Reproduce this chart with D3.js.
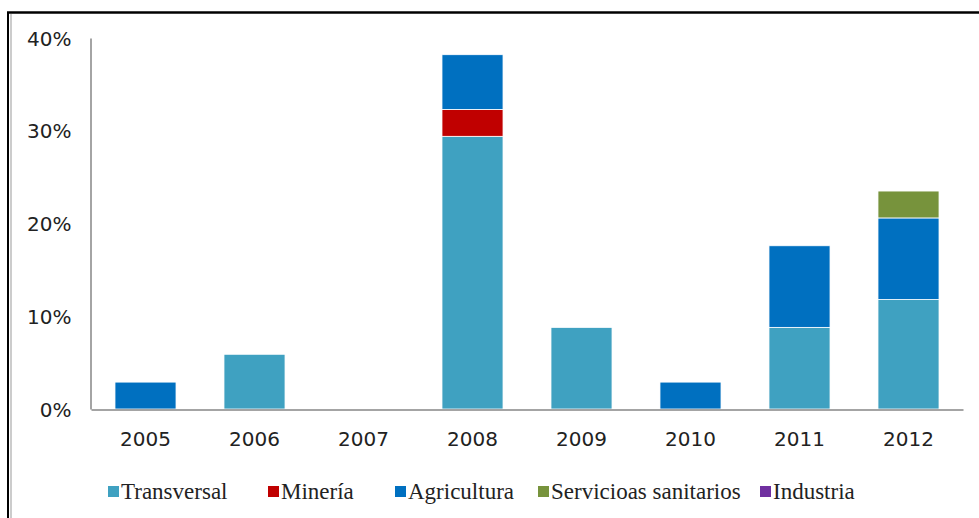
<!DOCTYPE html>
<html>
<head>
<meta charset="utf-8">
<script src="https://cdn.jsdelivr.net/npm/d3@7"></script>
<style>
  html, body { margin: 0; padding: 0; background: #fff; }
  svg { display: block; }
  text { font-family: "Liberation Serif", "DejaVu Serif", serif; fill: #222; }
</style>
</head>
<body>
<svg id="chart" width="979" height="518"></svg>
<script>
// Years on the category axis
const years = ["2005", "2006", "2007", "2008", "2009", "2010", "2011", "2012"];
// Series names, stacked bottom to top
const seriesNames = ["Transversal", "Minería", "Agricultura", "Servicioas sanitarios", "Industria"];
const seriesColors = ["#3fa1c1", "#c00000", "#0070c0", "#77933c", "#7030a0"];
// Share per year (%)
const transversal = [0, 5.9, 0, 29.4, 8.8, 0, 8.8, 11.8];
const mineria     = [0, 0, 0, 2.9, 0, 0, 0, 0];
const agricultura = [2.9, 0, 0, 5.9, 0, 2.9, 8.8, 8.8];
const sanitarios  = [0, 0, 0, 0, 0, 0, 0, 2.9];
const industria   = [0, 0, 0, 0, 0, 0, 0, 0];
const yTicks = [0, 10, 20, 30, 40];

const seriesValues = [transversal, mineria, agricultura, sanitarios, industria];
const rows = years.map((y, i) => {
  const r = { year: y };
  seriesNames.forEach((s, k) => { r[s] = seriesValues[k][i]; });
  return r;
});

const svg = d3.select("#chart");

// Frame around the chart
svg.append("line").attr("x1", 8).attr("x2", 8).attr("y1", 12).attr("y2", 520)
  .attr("stroke", "#000").attr("stroke-width", 2);
svg.append("line").attr("x1", 11).attr("x2", 11).attr("y1", 14).attr("y2", 520)
  .attr("stroke", "#999").attr("stroke-width", 1);
svg.append("line").attr("x1", 7).attr("x2", 981).attr("y1", 12.5).attr("y2", 12.5)
  .attr("stroke", "#000").attr("stroke-width", 2.5);

const plot = { left: 91, right: 963, top: 38, bottom: 409 };

const x = d3.scaleBand().domain(years).range([plot.left, plot.right]).paddingInner(0.44).paddingOuter(0.22);
const y = d3.scaleLinear().domain([0, 40]).range([plot.bottom, plot.top]);

const stack = d3.stack().keys(seriesNames);
const layers = stack(rows);

const g = svg.append("g");
g.selectAll("g.layer")
  .data(layers)
  .join("g")
  .attr("class", "layer")
  .attr("fill", (d, i) => seriesColors[i])
  .selectAll("rect")
  .data(d => d.filter(p => p[1] - p[0] > 0))
  .join("rect")
  .attr("x", d => x(d.data.year))
  .attr("width", x.bandwidth())
  .attr("y", d => y(d[1]))
  .attr("height", d => y(d[0]) - y(d[1]))
  .attr("stroke", "#fff")
  .attr("stroke-width", 0.8);

const axisFont = "'DejaVu Sans', Verdana, sans-serif";

// Y axis
const yAxis = d3.axisLeft(y).tickValues(yTicks).tickFormat(d => d + "%").tickSize(0).tickPadding(19);
const ya = svg.append("g").attr("transform", `translate(${plot.left - 0.5},0)`).call(yAxis);
ya.select(".domain").attr("stroke", "#868686").attr("stroke-width", 1.5);
ya.selectAll("text").style("font-size", "20px").attr("fill", "#333")
  .style("font-family", axisFont).attr("dy", "0.35em");

// X axis
const xAxis = d3.axisBottom(x).tickSize(0).tickPadding(22);
const xa = svg.append("g").attr("transform", `translate(0,${plot.bottom + 0.5})`).call(xAxis);
xa.select(".domain").attr("stroke", "#868686").attr("stroke-width", 1.5);
xa.selectAll("text").style("font-size", "20px").attr("fill", "#333")
  .style("font-family", axisFont);

// Legend
const legendX = [108, 268, 395, 538, 760];
const legend = svg.append("g");
seriesNames.forEach((s, i) => {
  legend.append("rect").attr("x", legendX[i]).attr("y", 486).attr("width", 11).attr("height", 11)
    .attr("fill", seriesColors[i]);
  legend.append("text").attr("x", legendX[i] + 13).attr("y", 499)
    .style("font-size", "23px").text(s);
});
</script>
</body>
</html>
